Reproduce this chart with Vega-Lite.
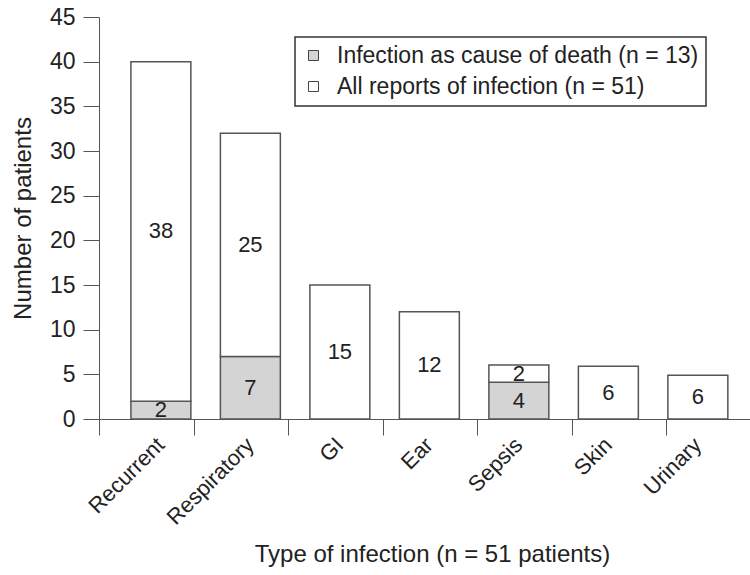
{
  "$schema": "https://vega.github.io/schema/vega-lite/v6.json",
  "autosize": {"type": "none"},
  "padding": {"left": 99, "top": 17, "right": 0, "bottom": 156},
  "width": 651,
  "height": 402,
  "config": {
    "view": {"stroke": null},
    "font": "Liberation Sans",
    "axis": {"grid": false, "domainColor": "#555", "tickColor": "#555", "labelColor": "#222", "titleColor": "#222", "titleFontWeight": "normal"},
    "legend": {"strokeWidth": 1.5}
  },
  "data": {
    "values": [
      {"type": "Recurrent", "series": "Infection as cause of death (n = 13)", "n": 2, "label": "2"},
      {"type": "Recurrent", "series": "All reports of infection (n = 51)", "n": 38, "label": "38"},
      {"type": "Respiratory", "series": "Infection as cause of death (n = 13)", "n": 7, "label": "7"},
      {"type": "Respiratory", "series": "All reports of infection (n = 51)", "n": 25, "label": "25"},
      {"type": "GI", "series": "All reports of infection (n = 51)", "n": 15, "label": "15"},
      {"type": "Ear", "series": "All reports of infection (n = 51)", "n": 12, "label": "12"},
      {"type": "Sepsis", "series": "Infection as cause of death (n = 13)", "n": 4.1, "label": "4"},
      {"type": "Sepsis", "series": "All reports of infection (n = 51)", "n": 1.95, "label": "2"},
      {"type": "Skin", "series": "All reports of infection (n = 51)", "n": 5.9, "label": "6"},
      {"type": "Urinary", "series": "All reports of infection (n = 51)", "n": 4.9, "label": "6"}
    ]
  },
  "layer": [
    {
      "transform": [
        {"stack": "n", "groupby": ["type"], "sort": [{"field": "series", "order": "descending"}], "as": ["y0", "y1"]},
        {"calculate": "(datum.y0 + datum.y1) / 2", "as": "ymid"}
      ],
      "encoding": {
        "x": {
          "field": "type", "type": "nominal",
          "sort": ["Recurrent", "Respiratory", "GI", "Ear", "Sepsis", "Skin", "Urinary"],
          "scale": {"paddingInner": 0.33, "paddingOuter": 0.302, "align": 0.59},
          "axis": {
            "orient": "bottom", "ticks": false, "domain": true, "labelAngle": -45,
            "labelFontSize": 22, "labelPadding": 22, "labelAlign": "right", "labelBaseline": "middle",
            "title": "Type of infection (n = 51 patients)", "titleFontSize": 24, "titlePadding": 14, "titleX": 333
          }
        }
      },
      "layer": [
        {
          "mark": {"type": "bar", "stroke": "#555", "strokeWidth": 1.5},
          "encoding": {
            "y": {
              "field": "y0", "type": "quantitative",
              "scale": {"domain": [0, 45], "nice": false},
              "axis": {
                "values": [0, 5, 10, 15, 20, 25, 30, 35, 40, 45], "tickSize": 16, "labelFontSize": 23,
                "labelPadding": 8, "title": "Number of patients", "titleFontSize": 24, "titlePadding": 14
              }
            },
            "y2": {"field": "y1"},
            "fill": {
              "field": "series", "type": "nominal",
              "scale": {"domain": ["Infection as cause of death (n = 13)", "All reports of infection (n = 51)"], "range": ["#d4d4d4", "#ffffff"]},
              "legend": {
                "title": null, "orient": "none", "legendX": 196, "legendY": 20,
                "strokeColor": "#333", "padding": 7, "symbolType": "square", "symbolSize": 100,
                "symbolStrokeColor": "#444", "symbolStrokeWidth": 1, "labelFontSize": 23, "labelColor": "#222",
                "labelOffset": 12, "rowPadding": 7, "labelLimit": 0
              }
            }
          }
        },
        {
          "mark": {"type": "text", "fontSize": 22, "color": "#222"},
          "encoding": {
            "y": {"field": "ymid", "type": "quantitative"},
            "text": {"field": "label"}
          }
        }
      ]
    },
    {
      "mark": {"type": "rule", "opacity": 0},
      "encoding": {
        "x": {
          "field": "type", "type": "nominal",
          "sort": ["Recurrent", "Respiratory", "GI", "Ear", "Sepsis", "Skin", "Urinary"],
          "scale": {"range": [0, 661.5], "paddingInner": 0, "paddingOuter": 0},
          "axis": {"orient": "bottom", "labels": false, "domain": false, "title": null, "ticks": true, "tickSize": 16, "tickBand": "extent"}
        },
        "y": {"datum": 0, "type": "quantitative"}
      }
    }
  ],
  "resolve": {"scale": {"x": "independent"}, "axis": {"x": "independent"}}
}
